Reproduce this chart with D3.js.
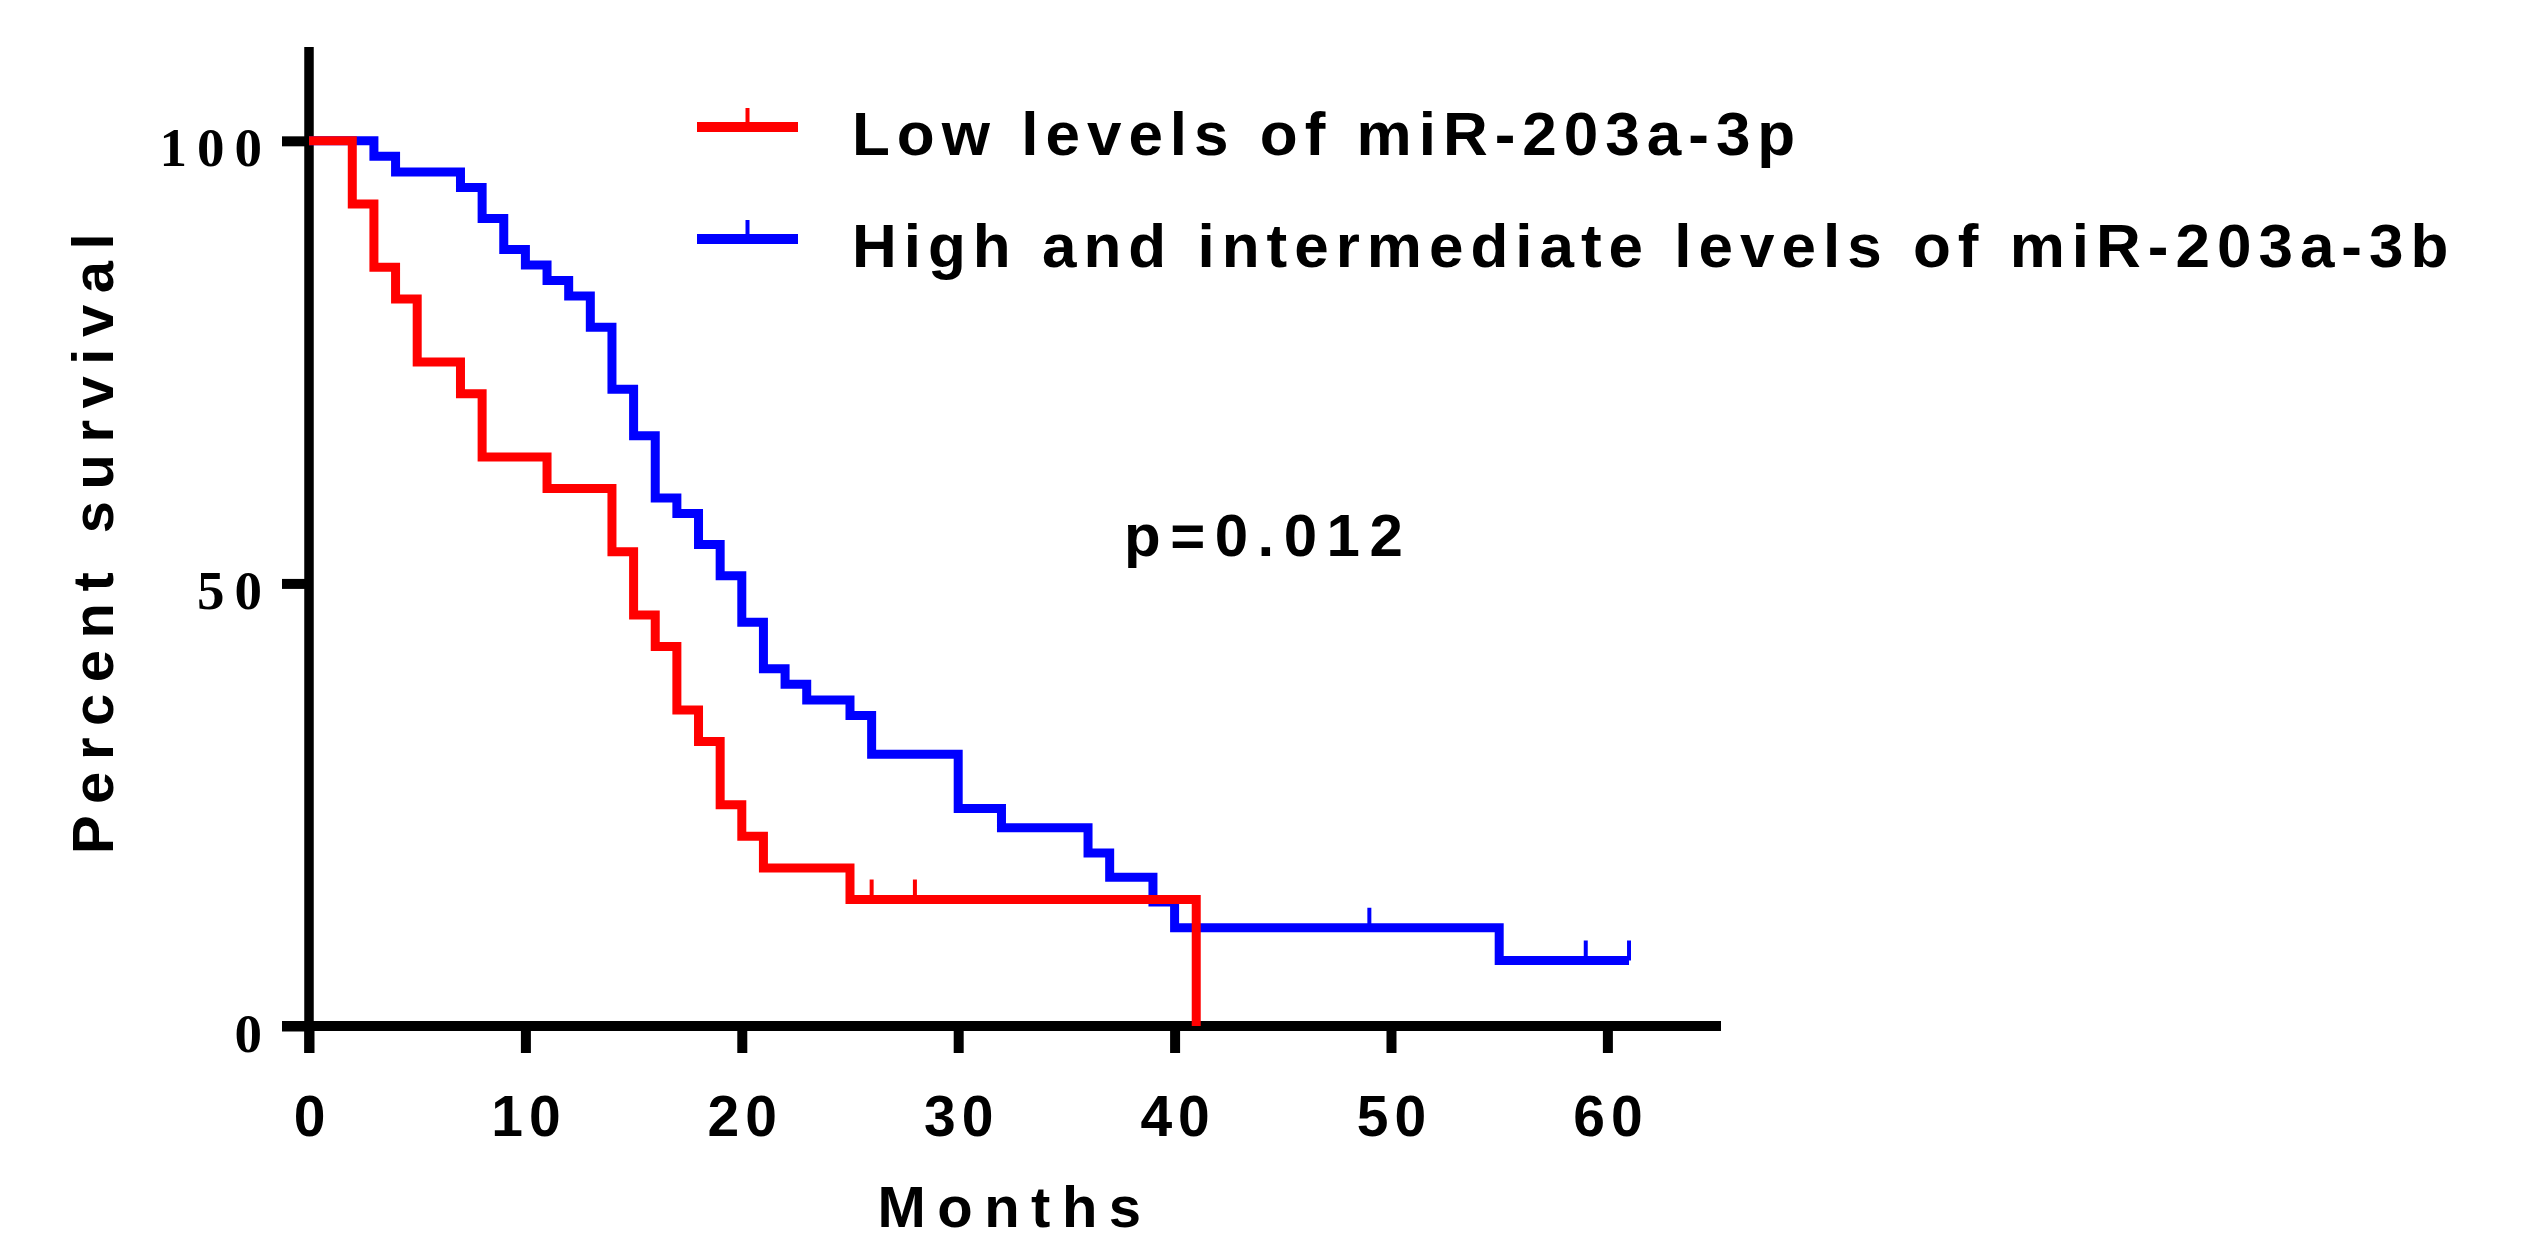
<!DOCTYPE html>
<html>
<head>
<meta charset="utf-8">
<script src="https://cdn.jsdelivr.net/npm/d3@7"></script>
<style>
  html, body { margin: 0; padding: 0; background: #fff; }
  svg { display: block; }
</style>
</head>
<body>
<script>
// ---- Data ----
const lowTimes = [0, 2, 3, 4, 5, 7, 8, 11, 14, 15, 16, 17, 18, 19, 20, 21, 25, 41];
const lowSurvival = [100, 92.86, 85.71, 82.14, 75, 71.43, 64.29, 60.71, 53.57, 46.43, 42.86, 35.71, 32.14, 25, 21.43, 17.86, 14.29, 0];
const lowCensored = [26, 28];

const highTimes = [0, 3, 4, 7, 8, 9, 10, 11, 12, 13, 14, 15, 16, 17, 18, 19, 20, 21, 22, 23, 25, 26, 30, 32, 36, 37, 39, 40, 55, 61];
const highSurvival = [100, 98.25, 96.49, 94.74, 91.23, 87.72, 85.96, 84.21, 82.46, 78.95, 71.93, 66.67, 59.65, 57.89, 54.39, 50.88, 45.61, 40.35, 38.6, 36.84, 35.09, 30.7, 24.56, 22.4, 19.55, 16.8, 14.0, 11.1, 7.4, 7.4];
const highCensored = [49, 59, 61];

const seriesNames = ["Low levels of miR-203a-3p", "High and intermediate levels of miR-203a-3b"];
const seriesColors = ["#FF0000", "#0000FF"];

const xTicks = [0, 10, 20, 30, 40, 50, 60];
const yTicks = [0, 50, 100];
const xTitle = "Months";
const yTitle = "Percent survival";
const pText = "p=0.012";

// ---- Layout ----
const W = 2526, H = 1243;
const svg = d3.select("body").append("svg").attr("width", W).attr("height", H);
svg.append("rect").attr("width", W).attr("height", H).attr("fill", "#fff");

const x = d3.scaleLinear().domain([0, 65.25]).range([309, 1721]);
const y = d3.scaleLinear().domain([0, 110.6]).range([1026, 47]);

const sans = "'Liberation Sans', Arial, Helvetica, sans-serif";
const serif = "'Liberation Serif', 'Times New Roman', serif";
const tickLen = 27;
const axisW = 9.5;

// ---- Axes ----
const xAxis = d3.axisBottom(x).tickValues(xTicks).tickSize(tickLen).tickSizeOuter(0).tickFormat(d3.format("d"));
const gx = svg.append("g").attr("transform", `translate(0,${y(0)})`).call(xAxis);
gx.select(".domain").remove();
gx.selectAll(".tick line").attr("stroke", "#000").attr("stroke-width", 10);
gx.selectAll(".tick text")
  .attr("y", 0).attr("dy", 0)
  .attr("transform", "translate(3,110)")
  .style("font-family", sans).style("font-weight", "bold").style("font-size", "57px")
  .style("letter-spacing", "6px").attr("fill", "#000");

const yAxis = d3.axisLeft(y).tickValues(yTicks).tickSize(tickLen).tickSizeOuter(0).tickFormat(d3.format("d"));
const gy = svg.append("g").attr("transform", `translate(${x(0)},0)`).call(yAxis);
gy.select(".domain").remove();
gy.selectAll(".tick line").attr("stroke", "#000").attr("stroke-width", 10);
gy.selectAll(".tick text")
  .attr("x", 0).attr("dy", 0)
  .attr("transform", "translate(-37,25)")
  .style("font-family", serif).style("font-weight", "bold").style("font-size", "55px")
  .style("letter-spacing", "10px").attr("fill", "#000");

// axis lines (GraphPad style: each extends past the other by the tick length)
svg.append("line")
  .attr("x1", x(0) - tickLen).attr("x2", x.range()[1])
  .attr("y1", y(0)).attr("y2", y(0))
  .attr("stroke", "#000").attr("stroke-width", axisW + 0.5);
svg.append("line")
  .attr("x1", x(0)).attr("x2", x(0))
  .attr("y1", y.range()[1]).attr("y2", y(0) + tickLen)
  .attr("stroke", "#000").attr("stroke-width", axisW);

// ---- Survival curves ----
const line = d3.line().x(d => x(d[0])).y(d => y(d[1])).curve(d3.curveStepAfter);
const stepValue = (times, surv, t) => {
  let v = surv[0];
  for (let i = 0; i < times.length; i++) if (times[i] <= t) v = surv[i];
  return v;
};

const series = [
  { times: highTimes, surv: highSurvival, cens: highCensored, color: seriesColors[1] },
  { times: lowTimes, surv: lowSurvival, cens: lowCensored, color: seriesColors[0] }
];

series.forEach(s => {
  const pts = s.times.map((t, i) => [t, s.surv[i]]);
  svg.append("path").datum(pts)
    .attr("d", line)
    .attr("fill", "none")
    .attr("stroke", s.color)
    .attr("stroke-width", 9)
    .attr("stroke-linejoin", "miter")
    .attr("stroke-linecap", "butt");
  svg.selectAll(null).data(s.cens).enter().append("line")
    .attr("x1", d => x(d)).attr("x2", d => x(d))
    .attr("y1", d => y(stepValue(s.times, s.surv, d)))
    .attr("y2", d => y(stepValue(s.times, s.surv, d)) - 20)
    .attr("stroke", s.color).attr("stroke-width", 4);
});

// ---- Legend ----
const legY = [127, 239];
seriesNames.forEach((name, i) => {
  const g = svg.append("g");
  g.append("line").attr("x1", 697).attr("x2", 798).attr("y1", legY[i]).attr("y2", legY[i])
    .attr("stroke", seriesColors[i]).attr("stroke-width", 10);
  g.append("line").attr("x1", 747.5).attr("x2", 747.5).attr("y1", legY[i]).attr("y2", legY[i] - 19)
    .attr("stroke", seriesColors[i]).attr("stroke-width", 4);
  g.append("text").attr("x", 852).attr("y", legY[i] + 28)
    .style("font-family", sans).style("font-weight", "bold").style("font-size", "62px")
    .style("letter-spacing", "7px").attr("fill", "#000").text(name);
});

// ---- p value ----
svg.append("text").attr("x", 1124).attr("y", 556)
  .style("font-family", sans).style("font-weight", "bold").style("font-size", "60px")
  .style("letter-spacing", "9.5px").attr("fill", "#000").text(pText);

// ---- Axis titles ----
svg.append("text").attr("x", 1015).attr("y", 1227)
  .attr("text-anchor", "middle")
  .style("font-family", sans).style("font-weight", "bold").style("font-size", "58px")
  .style("letter-spacing", "11.5px").attr("fill", "#000").text(xTitle);

svg.append("text")
  .attr("transform", `translate(113,${540 - 2}) rotate(-90)`)
  .attr("text-anchor", "middle")
  .style("font-family", sans).style("font-weight", "bold").style("font-size", "58px")
  .style("letter-spacing", "11.5px").attr("fill", "#000").text(yTitle);
</script>
</body>
</html>
